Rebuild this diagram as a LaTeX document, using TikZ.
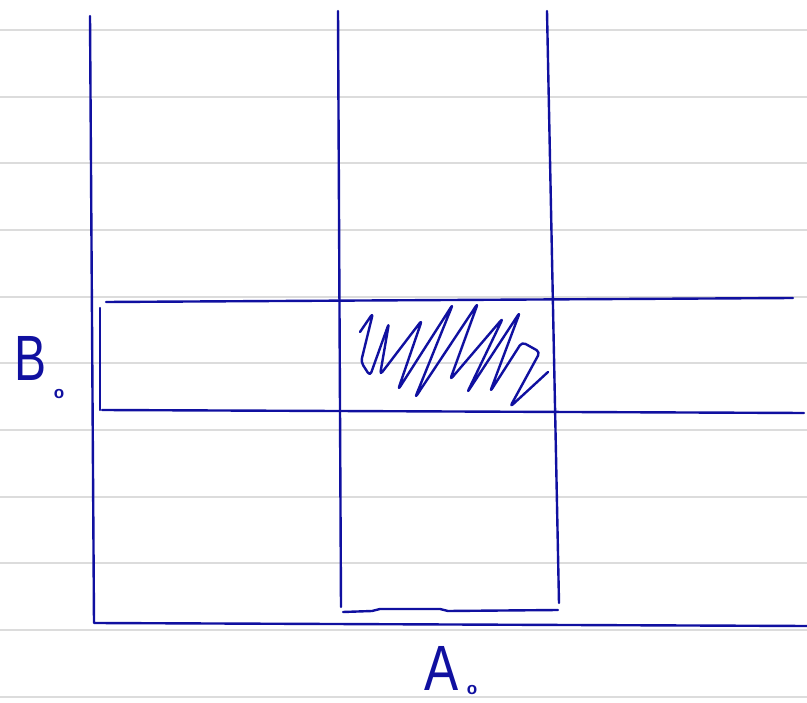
\documentclass[tikz,border=0pt]{standalone}
\usepackage{fontspec}
\setmainfont{Liberation Sans}
\begin{document}
\begin{tikzpicture}[x=1pt,y=-1pt,
  rule/.style={draw={rgb,255:red,220;green,220;blue,220},line width=2.5pt},
  ink/.style={draw={rgb,255:red,16;green,16;blue,160},line width=2.4pt,line cap=round,line join=round},
  lab/.style={text={rgb,255:red,16;green,16;blue,160},inner sep=0pt,font=\fontsize{64}{64}\selectfont},
  sub/.style={text={rgb,255:red,16;green,16;blue,160},inner sep=0pt,font=\bfseries\fontsize{17}{17}\selectfont}]
\useasboundingbox (0,0) rectangle (807,703);
\fill[white] (0,0) rectangle (807,703);
% ruled paper
\foreach \y in {30,97,163,230,297,363,430,497,563,630,697}
  \draw[rule] (0,\y) -- (807,\y);
% axes
\coordinate (ytop) at (90,16);
\coordinate (orig) at (94,623);
\coordinate (xend) at (807,626);
\draw[ink] (ytop) -- (orig) -- (xend);
% vertical strip
\coordinate (v1t) at (338,11);
\coordinate (v1b) at (341,607);
\coordinate (v2t) at (547,11);
\coordinate (v2b) at (559,603);
\draw[ink] (v1t) -- (v1b);
\draw[ink] (v2t) -- (v2b);
% bracket under strip
\coordinate (bl) at (343,612);
\coordinate (br) at (558,610);
\draw[ink] (bl) -- (372,611) -- (380,609) -- (440,609) -- (448,611) -- (br);
% horizontal strip
\coordinate (h1l) at (106,302);
\coordinate (h1r) at (793,298);
\coordinate (h2l) at (102,410);
\coordinate (h2r) at (804,413);
\draw[ink] (h1l) -- (h1r);
\draw[ink] (h2l) -- (h2r);
% small bracket left
\coordinate (sbt) at (100,308);
\coordinate (sbb) at (100,410);
\draw[ink] (sbt) -- (sbb);
% hatching
\draw[ink,rounded corners=4pt] (360,332) -- (373,313) -- (361,362) -- (370,376) -- (389,323) -- (380,375) -- (422,320) -- (398,390) -- (453,304) -- (415,398) -- (478,303) -- (450,380) -- (503,318) -- (467,393) -- (520,312) -- (490,392) -- (522,342) -- (540,352) -- (510,407) -- (548,372);
% labels
\node[lab,xscale=0.75] (B) at (31,358) {B};
\node[sub] (Bo) at (59,394) {o};
\node[lab,xscale=0.8] (A) at (442,668) {A};
\node[sub] (Ao) at (472,690) {o};
\end{tikzpicture}
\end{document}
